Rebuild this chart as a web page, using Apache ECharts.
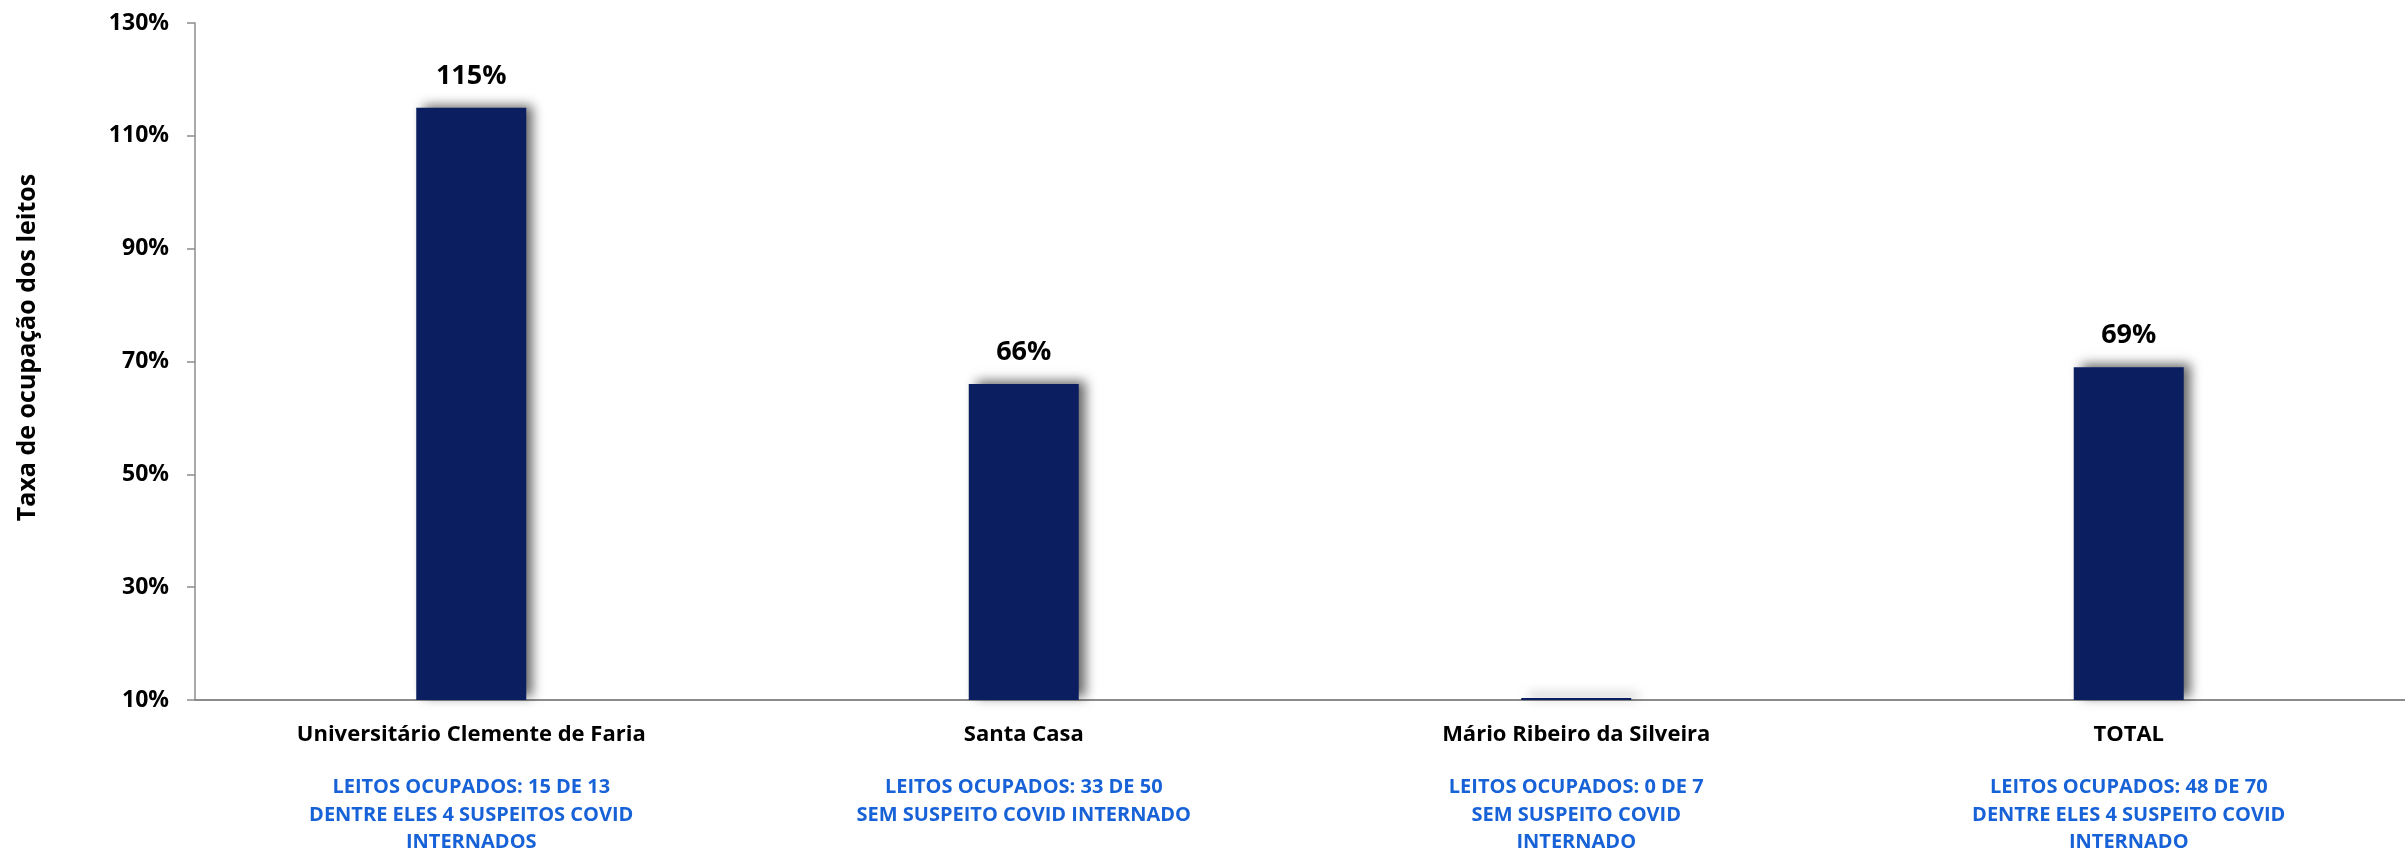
<!DOCTYPE html>
<html>
<head>
<meta charset="utf-8">
<script src="https://cdn.jsdelivr.net/npm/echarts@6/dist/echarts.min.js"></script>
<style>
html,body{margin:0;padding:0;background:#fff;}
#chart{width:2405px;height:855px;}
</style>
</head>
<body>
<div id="chart"></div>
<script>
const categories = ['Universitário Clemente de Faria', 'Santa Casa', 'Mário Ribeiro da Silveira', 'TOTAL'];
const notes = [
  'LEITOS OCUPADOS: 15 DE 13\nDENTRE ELES 4 SUSPEITOS COVID\nINTERNADOS',
  'LEITOS OCUPADOS: 33 DE 50\nSEM SUSPEITO COVID INTERNADO',
  'LEITOS OCUPADOS: 0 DE 7\nSEM SUSPEITO COVID\nINTERNADO',
  'LEITOS OCUPADOS: 48 DE 70\nDENTRE ELES 4 SUSPEITO COVID\nINTERNADO'
];
const occupancy = [115, 66, 0, 69];
const yMin = 10, yMax = 130, yStep = 20;
const yAxisName = 'Taxa de ocupação dos leitos';

const chart = echarts.init(document.getElementById('chart'));
chart.setOption({
  backgroundColor: '#ffffff',
  animation: false,
  grid: { left: 195, right: 0, top: 23, bottom: 155, containLabel: false },
  xAxis: {
    type: 'category',
    data: categories,
    axisLine: { lineStyle: { color: '#8c8c8c', width: 2 } },
    axisTick: { show: false },
    axisLabel: {
      interval: 0,
      margin: 20,
      formatter: function (v, i) {
        const lines = notes[i].split('\n').map(l => '{b|' + l + '}').join('\n');
        return '{a|' + v + '}\n{gap|}\n' + lines;
      },
      rich: {
        a: { fontFamily: 'Open Sans', fontWeight: 'bold', fontSize: 22, color: '#000', lineHeight: 30, align: 'center' },
        gap: { lineHeight: 24, fontSize: 10 },
        b: { fontFamily: 'Open Sans', fontWeight: 'bold', fontSize: 20, color: '#1862d8', lineHeight: 27.5, align: 'center' }
      }
    }
  },
  yAxis: {
    type: 'value',
    min: yMin, max: yMax, interval: yStep,
    startValue: yMin,
    name: yAxisName,
    nameLocation: 'middle',
    nameGap: 155,
    nameRotate: 90,
    nameTextStyle: { fontFamily: 'Open Sans', fontWeight: 'bold', fontSize: 25, color: '#000', padding: [0, 0, 0, 28] },
    axisLine: { show: true, lineStyle: { color: '#8c8c8c', width: 1.5 } },
    axisTick: { show: true, length: 8, lineStyle: { color: '#8c8c8c', width: 1.5 } },
    splitLine: { show: false },
    axisLabel: {
      margin: 26,
      formatter: '{value}%',
      fontFamily: 'Open Sans', fontWeight: 'bold', fontSize: 23, color: '#000'
    }
  },
  series: [{
    type: 'bar',
    barWidth: 110,
    barMinHeight: 2,
    data: occupancy.map(v => ({ value: Math.max(v, yMin), raw: v })),
    itemStyle: {
      color: '#0b1e5f',
      shadowColor: 'rgba(0,0,0,0.6)',
      shadowBlur: 11,
      shadowOffsetX: 7,
      shadowOffsetY: -3
    },
    label: {
      show: true,
      position: 'top',
      distance: 18,
      fontFamily: 'Open Sans', fontWeight: 'bold', fontSize: 27, color: '#000',
      formatter: function (p) { return p.data.raw > 0 ? p.data.raw + '%' : ''; }
    }
  }]
});
</script>
</body>
</html>
